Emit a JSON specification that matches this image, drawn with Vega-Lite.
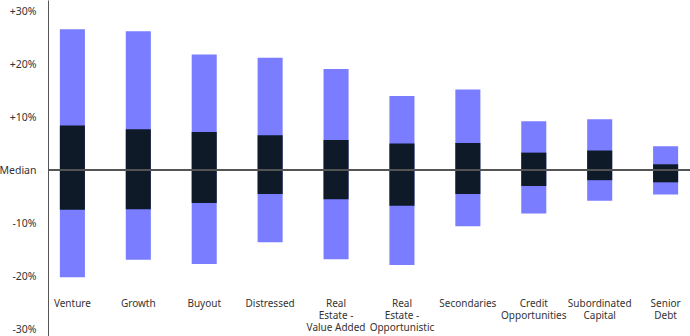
{
  "$schema": "https://vega.github.io/schema/vega-lite/v6.json",
  "autosize": {"type": "none"},
  "padding": {"left": 48, "top": 0, "right": 0, "bottom": 0},
  "width": 642,
  "height": 336,
  "config": {"view": {"stroke": null}, "font": "Noto Sans"},
  "data": {"values": [
    {"cat": "Venture", "label": "Venture", "low": -20.2, "q1": -7.5, "q3": 8.4, "high": 26.6},
    {"cat": "Growth", "label": "Growth", "low": -16.9, "q1": -7.4, "q3": 7.7, "high": 26.2},
    {"cat": "Buyout", "label": "Buyout", "low": -17.7, "q1": -6.2, "q3": 7.2, "high": 21.8},
    {"cat": "Distressed", "label": "Distressed", "low": -13.6, "q1": -4.5, "q3": 6.6, "high": 21.2},
    {"cat": "Real Estate - Value Added", "label": "Real\nEstate -\nValue Added", "low": -16.8, "q1": -5.5, "q3": 5.7, "high": 19.1},
    {"cat": "Real Estate - Opportunistic", "label": "Real\nEstate -\nOpportunistic", "low": -17.9, "q1": -6.7, "q3": 5.0, "high": 14.0},
    {"cat": "Secondaries", "label": "Secondaries", "low": -10.6, "q1": -4.5, "q3": 5.1, "high": 15.2},
    {"cat": "Credit Opportunities", "label": "Credit\nOpportunities", "low": -8.2, "q1": -3.0, "q3": 3.3, "high": 9.2},
    {"cat": "Subordinated Capital", "label": "Subordinated\nCapital", "low": -5.8, "q1": -1.9, "q3": 3.7, "high": 9.6},
    {"cat": "Senior Debt", "label": "Senior\nDebt", "low": -4.6, "q1": -2.3, "q3": 1.1, "high": 4.5}
  ]},
  "encoding": {
    "x": {"field": "cat", "type": "nominal", "sort": null,
          "scale": {"paddingInner": 0.62, "paddingOuter": 0.18}, "axis": null}
  },
  "layer": [
    {
      "mark": {"type": "bar", "color": "#7a7dff"},
      "encoding": {
        "y": {"field": "low", "type": "quantitative",
              "scale": {"domain": [-31.3, 32.1], "nice": false, "zero": false},
              "axis": {"values": [-30, -20, -10, 0, 10, 20, 30], "title": null, "grid": false, "ticks": false,
                       "domainColor": "#555555", "domainWidth": 1, "labelPadding": 12,
                       "labelFontSize": 10.5, "labelColor": "#333333", "labelFont": "Noto Sans",
                       "labelExpr": "datum.value == 0 ? 'Median' : (datum.value > 0 ? '+' : '') + datum.value + '%'"}},
        "y2": {"field": "high"}
      }
    },
    {
      "mark": {"type": "bar", "color": "#0e1a28"},
      "encoding": {
        "y": {"field": "q1", "type": "quantitative"},
        "y2": {"field": "q3"}
      }
    },
    {
      "mark": {"type": "rule", "color": "#555555", "strokeWidth": 1},
      "encoding": {"x": null, "y": {"datum": 0, "type": "quantitative"}}
    },
    {
      "mark": {"type": "text", "baseline": "top", "align": "center", "lineBreak": "\n", "lineHeight": 12,
               "fontSize": 10, "color": "#333333", "font": "Noto Sans"},
      "encoding": {
        "y": {"datum": -24.4, "type": "quantitative"},
        "text": {"field": "label"}
      }
    }
  ]
}
